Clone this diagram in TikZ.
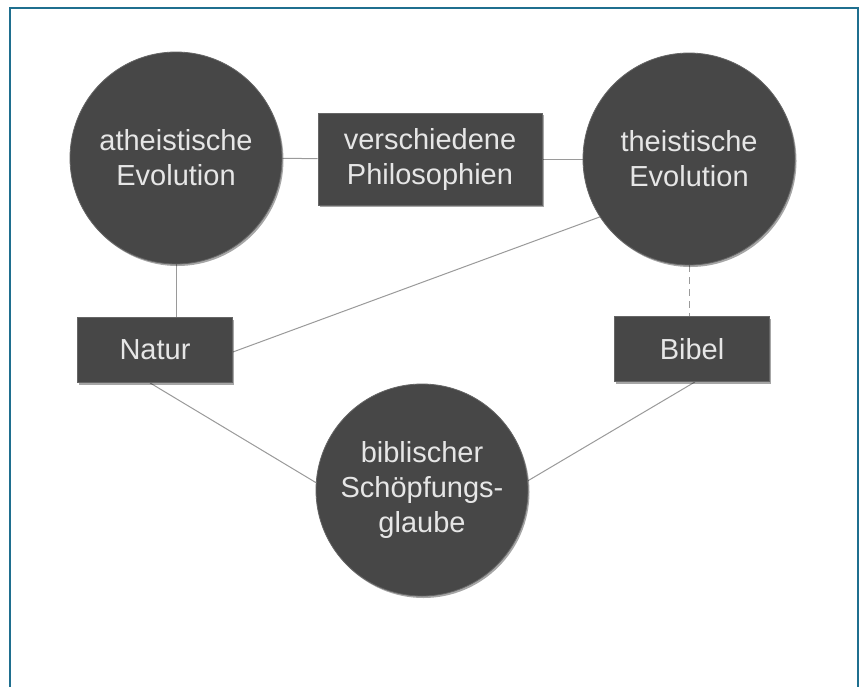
\documentclass[tikz,border=0pt]{standalone}
\usepackage{fontspec}
\setmainfont{Liberation Sans}
\usetikzlibrary{shadows,backgrounds}
\definecolor{frame}{HTML}{1F6F8F}
\definecolor{nodefill}{HTML}{474747}
\definecolor{nodetext}{HTML}{E6E6E6}
\definecolor{conn}{HTML}{9A9A9A}
\begin{document}
\begin{tikzpicture}[x=1pt,y=-1pt,
  base/.style={fill=nodefill, text=nodetext, draw=black!60, line width=0.8pt,
    font=\fontsize{29}{35}\selectfont, align=center, inner sep=0pt,
    drop shadow={shadow xshift=1.5pt, shadow yshift=-2pt, opacity=0.35, fill=black}},
  bigcircle/.style={base, circle, minimum size=212pt},
  rbox/.style={base, rectangle, minimum width=155pt, minimum height=65pt},
  wbox/.style={base, rectangle, minimum width=224pt, minimum height=92pt},
  link/.style={draw=conn, line width=1pt},
  dlink/.style={link, dash pattern=on 7pt off 5pt}]
\useasboundingbox (0,0) rectangle (861,686);
\begin{pgfonlayer}{background}
\fill[white] (0,0) rectangle (861,686);
\end{pgfonlayer}
\draw[frame, line width=2pt] (10,700) -- (10,7.5) -- (857.5,7.5) -- (857.5,700);

\node[bigcircle] (ath) at (176,158) {atheistische\\Evolution};
\node[bigcircle] (the) at (689,159) {theistische\\Evolution};
\node[bigcircle] (bib) at (422,490) {biblischer\\Schöpfungs-\\glaube};
\node[wbox] (phil) at (430,159) {verschiedene\\Philosophien};
\node[rbox] (nat) at (155,350) {Natur};
\node[rbox] (bibel) at (692,349) {Bibel};

\begin{pgfonlayer}{background}
\draw[link] (ath) -- (phil);
\draw[link] (phil) -- (the);
\draw[link] (ath.south) -- (nat.north -| ath.south);
\draw[link] ([yshift=-2pt]nat.east) -- (the.213);
\draw[dlink] (the.south) -- (bibel.north -| the.south);
\draw[link] ([xshift=-5pt]nat.south) -- (bib.176);
\draw[link] ([xshift=3pt]bibel.south) -- (bib.5);
\end{pgfonlayer}
\end{tikzpicture}
\end{document}
